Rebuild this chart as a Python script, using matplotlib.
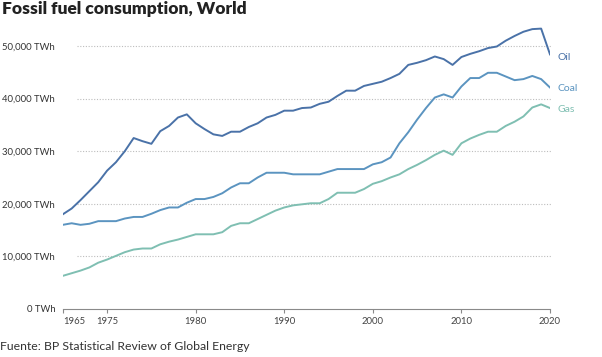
import matplotlib
matplotlib.use('Agg')
import matplotlib.pyplot as plt

# Fossil fuel consumption, World (TWh)
anos = list(range(1965, 2021))

petroleo = [18000, 19100, 20700, 22400, 24100, 26300, 27900, 30000, 32500, 31900,
            31400, 33800, 34800, 36400, 37000, 35300, 34200, 33200, 32900, 33700,
            33700, 34600, 35300, 36400, 36900, 37700, 37700, 38200, 38300, 39000,
            39400, 40500, 41500, 41500, 42400, 42800, 43200, 43900, 44700, 46400,
            46800, 47300, 48000, 47500, 46400, 47900, 48500, 49000, 49600, 49900,
            51000, 51900, 52700, 53200, 53300, 48400]

carvao = [16000, 16300, 16000, 16200, 16700, 16700, 16700, 17200, 17500, 17500,
          18100, 18800, 19300, 19300, 20200, 20900, 20900, 21300, 22000, 23100,
          23900, 23900, 25000, 25900, 25900, 25900, 25600, 25600, 25600, 25600,
          26100, 26600, 26600, 26600, 26600, 27500, 27900, 28800, 31500, 33600,
          36000, 38200, 40200, 40800, 40200, 42300, 43900, 43900, 44900, 44900,
          44200, 43500, 43700, 44300, 43700, 42100]

gas = [6300, 6800, 7300, 7900, 8800, 9400, 10100, 10800, 11300, 11500,
       11500, 12300, 12800, 13200, 13700, 14200, 14200, 14200, 14600, 15800,
       16300, 16300, 17100, 17900, 18700, 19300, 19700, 19900, 20100, 20100,
       20900, 22100, 22100, 22100, 22800, 23800, 24300, 25000, 25600, 26600,
       27400, 28300, 29300, 30100, 29300, 31500, 32400, 33100, 33700, 33700,
       34800, 35600, 36600, 38300, 38900, 38200]

valores_y = [0, 10000, 20000, 30000, 40000, 50000]
rotulos_y = ['0 TWh', '10,000 TWh', '20,000 TWh', '30,000 TWh', '40,000 TWh', '50,000 TWh']

# the source chart labels the 1970 tick as "1975"
ticks_x = [1965, 1970, 1980, 1990, 2000, 2010, 2020]
rotulos_x = ['1965', '1975', '1980', '1990', '2000', '2010', '2020']

COR_OIL = '#4a72a8'
COR_COAL = '#5b94c0'
COR_GAS = '#7fbfb2'
FONTE = ['Lato', 'DejaVu Sans']

plt.rcParams['font.family'] = FONTE

fig = plt.figure(figsize=(6.02, 3.57), dpi=100)
L, R, B, T = 62.8, 550.0, 309.0, 14.4
ax = fig.add_axes([L / 602, (357 - B) / 357, (R - L) / 602, (B - T) / 357])

ax.set_xlim(1965, 2020)
ax.set_ylim(0, 56000)

ax.hlines(valores_y[1:], 1966.6, 2020.2, colors='#bdbdbd', linestyles=(0, (1, 1.5)),
          linewidth=0.8, clip_on=False, zorder=1)

ax.plot(anos, petroleo, color=COR_OIL, linewidth=1.4, zorder=3)
ax.plot(anos, carvao, color=COR_COAL, linewidth=1.4, zorder=3)
ax.plot(anos, gas, color=COR_GAS, linewidth=1.4, zorder=3)

ax.text(2020.9, petroleo[-1] - 600, 'Oil', color=COR_OIL, fontsize=7.5, va='center', ha='left')
ax.text(2020.9, carvao[-1] - 200, 'Coal', color=COR_COAL, fontsize=7.5, va='center', ha='left')
ax.text(2020.9, gas[-1] - 200, 'Gas', color=COR_GAS, fontsize=7.5, va='center', ha='left')

for lado in ['top', 'right', 'left']:
    ax.spines[lado].set_visible(False)
ax.spines['bottom'].set_color('#8a8a8a')
ax.spines['bottom'].set_linewidth(0.8)

ax.set_yticks(valores_y)
ax.set_yticklabels(rotulos_y)
ax.tick_params(axis='y', length=0, pad=5.5, labelsize=6.8, labelcolor='#333333')

ax.set_xticks(ticks_x)
ax.set_xticklabels(rotulos_x)
ax.tick_params(axis='x', direction='out', length=3, width=0.8, color='#8a8a8a',
               pad=3, labelsize=6.8, labelcolor='#444444')
ax.get_xticklabels()[0].set_horizontalalignment('left')

fig.text(2 / 602, 1 - 1 / 357, 'Fossil fuel consumption, World', fontsize=12.5,
         fontweight='heavy', color='#222222', ha='left', va='top')
fig.text(0 / 602, 1 - 347 / 357, 'Fuente: BP Statistical Review of Global Energy',
         fontsize=8.8, color='#333333', ha='left', va='center')

plt.savefig('out.png', dpi=100, facecolor='white')
